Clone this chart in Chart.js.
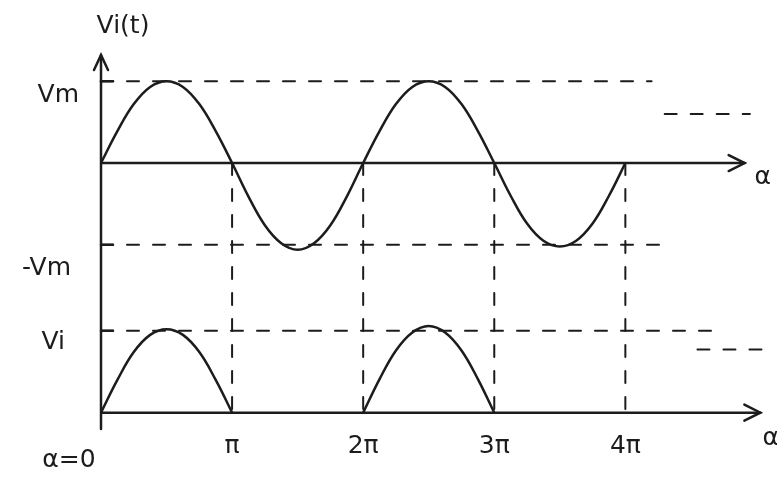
<!DOCTYPE html>
<html>
<head>
<meta charset="utf-8">
<script src="https://cdn.jsdelivr.net/npm/chart.js@4.4.1/dist/chart.umd.min.js"></script>
<style>
  html, body { margin: 0; padding: 0; background: #fff; }
  #wrap { width: 777px; height: 479px; }
</style>
</head>
<body>
<div id="wrap"><canvas id="myChart" width="777" height="479"></canvas></div>
<script>
// angle in units of pi, read every pi/8
const alphaPi = [0, 0.125, 0.25, 0.375, 0.5, 0.625, 0.75, 0.875, 1,
    1.125, 1.25, 1.375, 1.5, 1.625, 1.75, 1.875, 2,
    2.125, 2.25, 2.375, 2.5, 2.625, 2.75, 2.875, 3,
    3.125, 3.25, 3.375, 3.5, 3.625, 3.75, 3.875, 4];
// input sine vi(t), in units of Vm
const vInput = [0, 0.39, 0.72, 0.93, 1, 0.93, 0.72, 0.39, 0,
    -0.41, -0.76, -0.98, -1.06, -0.98, -0.76, -0.41, 0,
    0.39, 0.72, 0.93, 1, 0.93, 0.72, 0.39, 0,
    -0.4, -0.74, -0.95, -1.02, -0.95, -0.74, -0.4, 0];
// half-wave output vi (zero stretches lie on the axis)
const vOutput = [0, 0.4, 0.74, 0.95, 1.02, 0.95, 0.74, 0.4, 0,
    null, null, null, null, null, null, null, 0,
    0.41, 0.76, 0.98, 1.06, 0.98, 0.76, 0.41, 0,
    null, null, null, null, null, null, null, null];
const tickPos = [1, 2, 3, 4];
const tickLabels = ['π', '2π', '3π', '4π'];

const TOP_BASE = 3.05;   // where the upper plot's axis sits
const INK = '#1c1c1c';

const sketch = {
    id: 'sketch',
    beforeDatasetsDraw(chart) {
        const c = chart.ctx;
        const xs = chart.scales.x, ys = chart.scales.y;
        const X = v => xs.getPixelForValue(v);
        const Y = v => ys.getPixelForValue(v);

        c.save();
        c.strokeStyle = INK;
        c.lineCap = 'round';

        // dashed guides
        c.lineWidth = 2;
        c.setLineDash([12, 14]);
        const hDash = (y, x0, x1) => { c.beginPath(); c.moveTo(X(x0), Y(y)); c.lineTo(X(x1), Y(y)); c.stroke(); };
        hDash(TOP_BASE + 1, 0, 4.2);
        hDash(TOP_BASE - 1, 0, 4.3);
        hDash(1, 0, 4.75);
        hDash(TOP_BASE + 0.6, 4.3, 4.95);
        hDash(0.77, 4.55, 5.05);
        tickPos.forEach(p => {
            c.beginPath(); c.moveTo(X(p), Y(TOP_BASE)); c.lineTo(X(p), Y(0)); c.stroke();
        });
        c.setLineDash([]);

        // axes
        c.lineWidth = 2.5;
        const xEnd = xs.max - 0.02;
        c.beginPath();
        c.moveTo(X(0), Y(ys.min)); c.lineTo(X(0), Y(ys.max));
        c.moveTo(X(0), Y(TOP_BASE)); c.lineTo(X(xEnd - 0.12), Y(TOP_BASE));
        c.moveTo(X(0), Y(0)); c.lineTo(X(xEnd), Y(0));
        c.stroke();

        // arrow heads
        const arrowR = (x, y) => {
            c.beginPath();
            c.moveTo(x - 16, y - 8); c.lineTo(x, y); c.lineTo(x - 16, y + 8);
            c.stroke();
        };
        arrowR(X(xEnd - 0.12), Y(TOP_BASE));
        arrowR(X(xEnd), Y(0));
        c.beginPath();
        c.moveTo(X(0) - 7, Y(ys.max) + 15); c.lineTo(X(0), Y(ys.max)); c.lineTo(X(0) + 7, Y(ys.max) + 15);
        c.stroke();

        // y-axis tick stubs
        [TOP_BASE + 1, TOP_BASE - 1, 1].forEach(v => {
            c.beginPath(); c.moveTo(X(0), Y(v)); c.lineTo(X(0) + 12, Y(v)); c.stroke();
        });

        // text
        c.fillStyle = INK;
        c.font = '25px "DejaVu Sans"';
        c.textBaseline = 'middle';
        c.textAlign = 'center';
        c.fillText('Vi(t)', X(0) + 22, 26);
        c.textAlign = 'right';
        c.fillText('Vm', X(0) - 22, Y(TOP_BASE + 1) + 14);
        c.fillText('-Vm', X(0) - 30, Y(TOP_BASE - 1) + 24);
        c.fillText('Vi', X(0) - 36, Y(1) + 12);
        c.textAlign = 'center';
        c.fillText('α=0', X(0) - 32, Y(0) + 48);
        tickPos.forEach((p, i) => c.fillText(tickLabels[i], X(p), Y(0) + 34));
        c.fillText('α', X(xEnd - 0.12) + 18, Y(TOP_BASE) + 14);
        c.textAlign = 'left';
        c.fillText('α', X(xEnd) + 2, Y(0) + 26);
        c.restore();
    }
};

const ctx = document.getElementById('myChart');
const myChart = new Chart(ctx, {
    type: 'line',
    data: {
        datasets: [
            {
                data: alphaPi.map((a, i) => ({ x: a, y: TOP_BASE + vInput[i] })),
                borderColor: INK,
                borderWidth: 2.5,
                pointRadius: 0,
                tension: 0.4
            },
            {
                data: alphaPi.map((a, i) => ({ x: a, y: vOutput[i] })),
                borderColor: INK,
                borderWidth: 2.5,
                pointRadius: 0,
                spanGaps: false,
                tension: 0.4
            }
        ]
    },
    options: {
        responsive: false,
        devicePixelRatio: 1,
        animation: false,
        layout: { padding: { left: 101, right: 14, top: 55, bottom: 50 } },
        plugins: { legend: { display: false }, tooltip: { enabled: false } },
        scales: {
            x: { type: 'linear', min: 0, max: 5.05, display: false },
            y: { min: -0.2, max: 4.37, display: false }
        }
    },
    plugins: [sketch]
});
</script>
</body>
</html>
